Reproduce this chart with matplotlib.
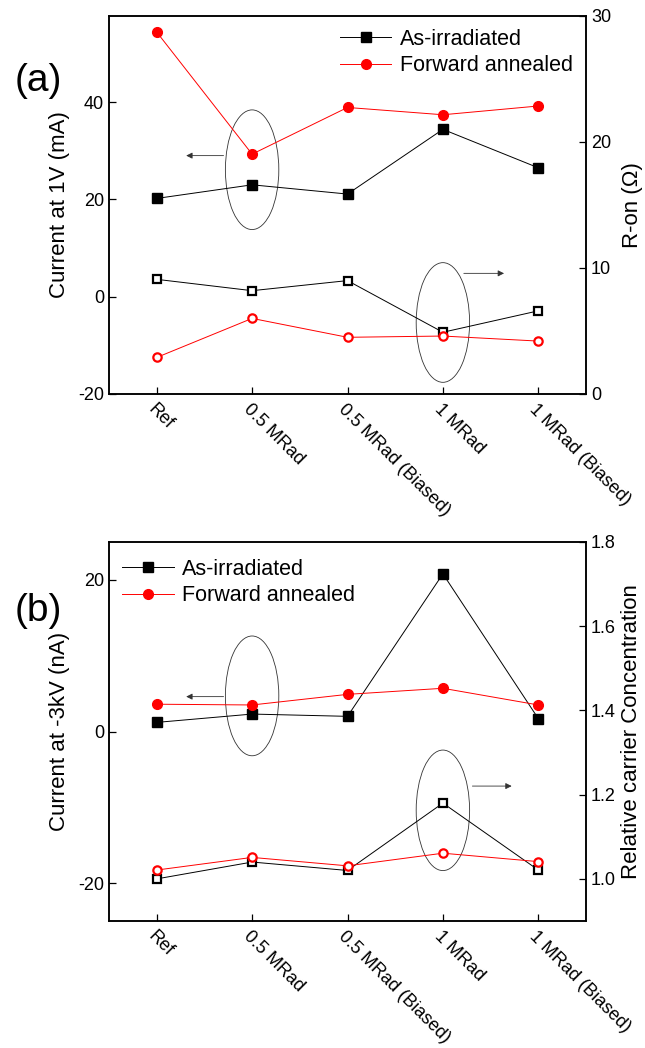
import matplotlib.pyplot as plt
from matplotlib.patches import Ellipse

plt.rcParams['font.family'] = ['Liberation Sans', 'DejaVu Sans']
plt.rcParams['axes.unicode_minus'] = False

samples = ['Ref', '0.5 MRad', '0.5 MRad (Biased)', '1 MRad', '1 MRad (Biased)']
xpos = list(range(len(samples)))

# (a) current at 1 V (mA) and on-resistance (Ohm)
cur_1v_irr = [20.2, 23.0, 21.1, 34.4, 26.5]
cur_1v_ann = [54.4, 29.3, 38.9, 37.4, 39.2]
ron_irr = [9.1, 8.2, 9.0, 4.9, 6.6]
ron_ann = [2.9, 6.0, 4.5, 4.6, 4.2]

# (b) current at -3 kV (nA) and relative carrier concentration
cur_3kv_irr = [1.2, 2.3, 2.0, 20.8, 1.7]
cur_3kv_ann = [3.6, 3.5, 4.9, 5.7, 3.5]
conc_irr = [1.000, 1.040, 1.020, 1.180, 1.021]
conc_ann = [1.021, 1.051, 1.031, 1.061, 1.041]

fig = plt.figure(figsize=(6.45, 10.48), dpi=100)
W, H = 645, 1048


def box(l, t, r, b):
    return [l / W, 1 - b / H, (r - l) / W, (b - t) / H]


def style(ax, ax2):
    for a in (ax, ax2):
        a.tick_params(direction='in', labelsize=13, length=5, width=0.9)
        for s in a.spines.values():
            s.set_linewidth(1.1)
    ax.set_xlim(-0.5, 4.5)
    ax.set_xticks(xpos)
    ax.set_xticklabels(samples, rotation=-45, ha='left', va='top',
                       rotation_mode='anchor')
    ax.tick_params(axis='x', pad=5)


def panel(rect, left_irr, left_ann, right_irr, right_ann, ylim, ylim2,
          yticks, yticks2, ylabel, ylabel2, pad2, tag, tag_y, loc,
          legend_anchor, ell_left, ell_right, arr_left, arr_right):
    ax = fig.add_axes(rect)
    ax2 = ax.twinx()
    l1, = ax.plot(xpos, left_irr, '-s', color='black', lw=0.7, ms=7)
    l2, = ax.plot(xpos, left_ann, '-o', color='red', lw=0.7, ms=7)
    ax2.plot(xpos, right_irr, '-s', color='black', lw=0.7, ms=6,
             mfc='white', mew=1.6)
    ax2.plot(xpos, right_ann, '-o', color='red', lw=0.7, ms=6,
             mfc='white', mew=1.6)
    ax.set_ylim(*ylim)
    ax2.set_ylim(*ylim2)
    ax.set_yticks(yticks)
    ax2.set_yticks(yticks2)
    style(ax, ax2)
    ax.set_ylabel(ylabel, fontsize=16, labelpad=6)
    ax2.set_ylabel(ylabel2, fontsize=16, labelpad=pad2)

    # ellipses grouping the curves with their axis, in left-axis units
    for (cx, cy, w, h) in (ell_left, ell_right):
        ax.add_patch(Ellipse((cx, cy), w, h, fill=False, lw=0.6,
                             ec='#333333', zorder=1))
    for (x0, x1, y) in (arr_left, arr_right):
        ax.annotate('', xy=(x1, y), xytext=(x0, y),
                    arrowprops=dict(arrowstyle='-|>', lw=0.6, color='#333333',
                                    mutation_scale=9))

    ax.legend([l1, l2], ['As-irradiated', 'Forward annealed'],
              loc=loc, bbox_to_anchor=legend_anchor, frameon=False,
              fontsize=15.5, handlelength=2.4, handletextpad=0.4,
              labelspacing=0.25, borderaxespad=0.2)
    ax.text(-0.197, tag_y, tag, transform=ax.transAxes, fontsize=28,
            ha='left', va='bottom')
    return ax, ax2


panel(box(109, 16, 586, 394), cur_1v_irr, cur_1v_ann, ron_irr, ron_ann,
      (-20, 57.7), (0, 30), [-20, 0, 20, 40], [0, 10, 20, 30],
      'Current at 1V (mA)', 'R-on (\u03a9)', 8, '(a)', 0.78, 'upper right',
      (1.0, 1.0),
      (1, 26.1, 0.56, 24.6), (3, -5.3, 0.56, 24.6),
      (0.73, 0.28, 29.0), (3.19, 3.67, 4.8))

panel(box(109, 542, 586, 921), cur_3kv_irr, cur_3kv_ann, conc_irr, conc_ann,
      (-25, 25), (0.9, 1.8), [-20, 0, 20], [1.0, 1.2, 1.4, 1.6, 1.8],
      'Current at -3kV (nA)', 'Relative carrier Concentration', 4, '(b)',
      0.77, 'upper left', (0.0, 0.99),
      (1, 4.7, 0.56, 15.8), (3, -10.4, 0.56, 15.9),
      (0.73, 0.28, 4.6), (3.28, 3.75, -7.2))

fig.savefig('out.png', dpi=100)
